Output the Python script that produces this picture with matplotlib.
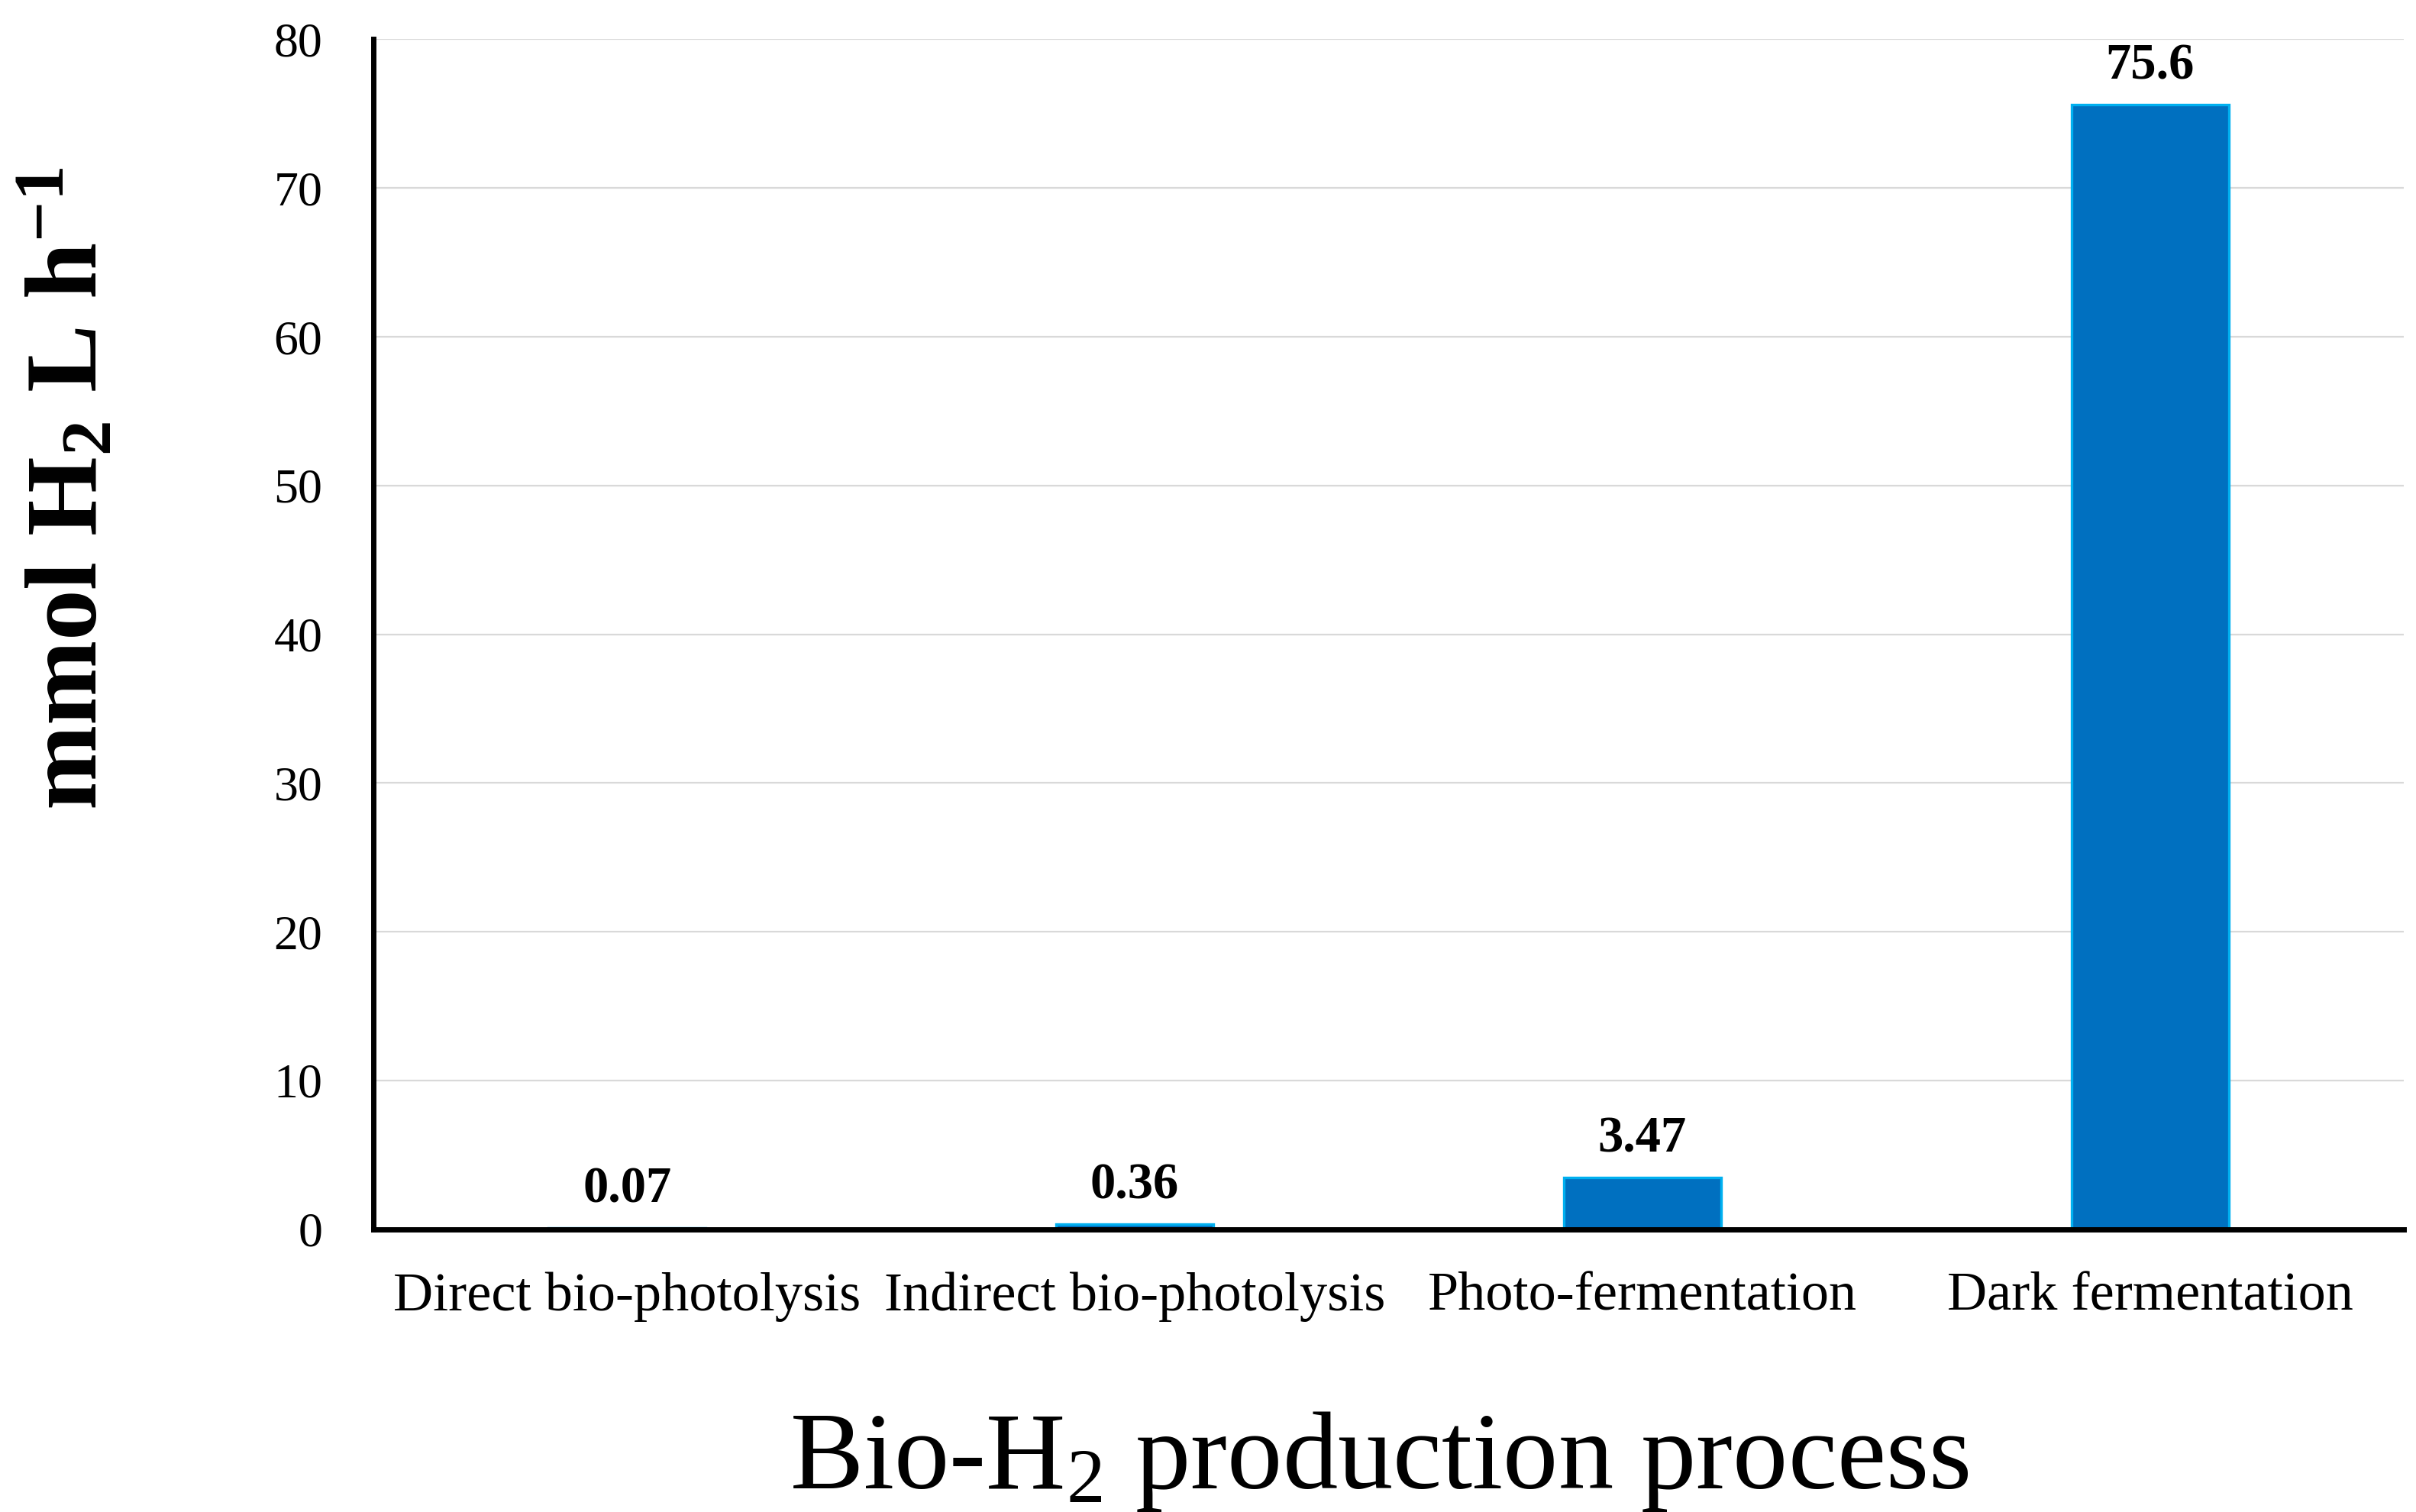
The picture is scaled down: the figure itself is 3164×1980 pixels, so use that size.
import matplotlib
matplotlib.use("Agg")
import matplotlib.pyplot as plt

categories = ["Direct bio-photolysis", "Indirect bio-photolysis", "Photo-fermentation", "Dark fermentation"]
values = [0.07, 0.36, 3.47, 75.6]
value_labels = ["0.07", "0.36", "3.47", "75.6"]
yticks = [0, 10, 20, 30, 40, 50, 60, 70, 80]

plt.rcParams['font.family'] = ['Liberation Serif', 'DejaVu Serif']
plt.rcParams['mathtext.fontset'] = 'custom'
plt.rcParams['mathtext.rm'] = 'Liberation Serif'
plt.rcParams['mathtext.bf'] = 'Liberation Serif:bold'
plt.rcParams['mathtext.it'] = 'Liberation Serif:italic'

fig = plt.figure(figsize=(15.82, 9.9), dpi=200)
ax = fig.add_axes([0.1545, 0.187, 0.8405, 0.787])

x = range(len(categories))
bars = ax.bar(x, values, width=0.31, color='#0070C0', edgecolor='#00B0F0', linewidth=1.2, zorder=3)

for xi, v, lab in zip(x, values, value_labels):
    ax.annotate(lab, (xi, v), xytext=(0, 7), textcoords='offset points',
                ha='center', va='bottom', fontsize=24, fontweight='bold', zorder=4)

ax.set_xlim(-0.5, 3.5)
ax.set_ylim(0, 80)
ax.set_yticks(yticks)
ax.set_yticklabels([str(t) for t in yticks], fontsize=23)
ax.set_xticks(list(x))
ax.set_xticklabels(categories, fontsize=26)
ax.tick_params(axis='y', length=0, pad=24)
ax.tick_params(axis='x', length=0, pad=20)

ax.yaxis.grid(True, color='#D9D9D9', linewidth=0.8, zorder=0)
ax.set_axisbelow(True)
for s in ['top', 'right']:
    ax.spines[s].set_visible(False)
for s in ['left', 'bottom']:
    ax.spines[s].set_linewidth(2.5)
    ax.spines[s].set_color('black')
    ax.spines[s].set_zorder(5)

fig.text(91/3164, 1 - 640/1980, r"mmol H$_\mathbf{2}$ L h$^{\mathbf{-1}}$", rotation=90,
         ha='center', va='center', fontsize=48, fontweight='bold')
fig.text(0.571, 1 - 1949/1980, r"Bio-H$_2$ production process", ha='center', va='baseline',
         fontsize=52)

fig.savefig("out.png", dpi=200)
